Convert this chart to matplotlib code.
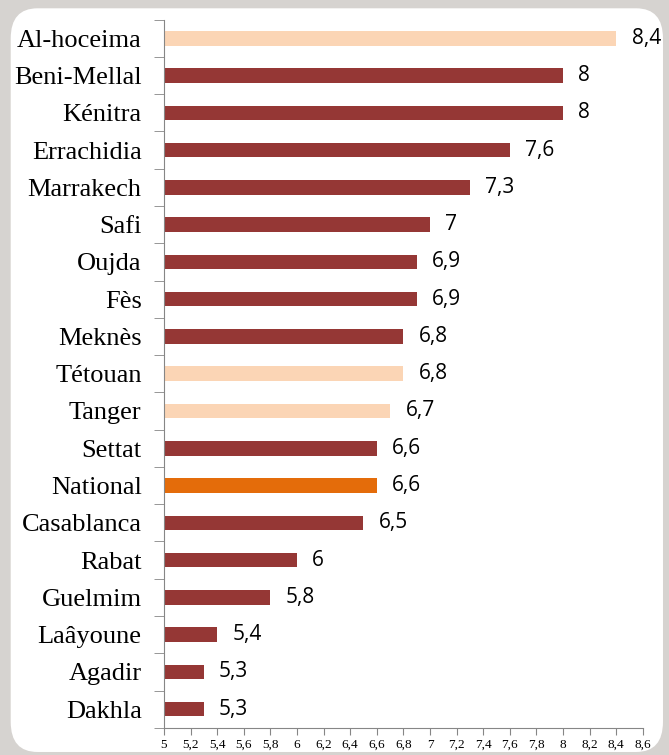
import matplotlib.pyplot as plt
from matplotlib.patches import FancyBboxPatch
from matplotlib.ticker import MultipleLocator, FuncFormatter

# ---- data ----
villes = ["Al-hoceima", "Beni-Mellal", "Kénitra", "Errachidia", "Marrakech", "Safi",
          "Oujda", "Fès", "Meknès", "Tétouan", "Tanger", "Settat", "National",
          "Casablanca", "Rabat", "Guelmim", "Laâyoune", "Agadir", "Dakhla"]
valeurs = [8.4, 8, 8, 7.6, 7.3, 7, 6.9, 6.9, 6.8, 6.8, 6.7, 6.6, 6.6, 6.5, 6, 5.8, 5.4, 5.3, 5.3]
clairs = ["Al-hoceima", "Tétouan", "Tanger"]

rouge = "#953735"
peche = "#FBD5B5"
orange = "#E46C0A"
couleurs = [peche if v in clairs else (orange if v == "National" else rouge) for v in villes]

fig = plt.figure(figsize=(6.69, 7.55), dpi=100, facecolor="#D6D3D0")
# panneau blanc arrondi
fig.patches.append(FancyBboxPatch((0.016, 0.004), 0.975, 0.985,
                                  boxstyle="round,pad=0,rounding_size=0.04",
                                  transform=fig.transFigure, facecolor="white",
                                  edgecolor="none", zorder=-5))

ax = fig.add_axes([0.245, 0.036, 0.716, 0.938])
ax.set_facecolor("none")
ax.set_zorder(2)

y = list(range(len(villes)))
ax.barh(y, [v - 5 for v in valeurs], left=5, height=0.39, color=couleurs)
for yi, v in zip(y, valeurs):
    ax.annotate(str(v).replace(".", ","), (v, yi), xytext=(11, 0), textcoords="offset points",
                va="center", ha="left", fontsize=15, family="Open Sans",
                annotation_clip=False)

ax.set_xlim(5, 8.6)
ax.set_ylim(len(villes) - 0.5, -0.5)
ax.xaxis.set_major_locator(MultipleLocator(0.2))
ax.xaxis.set_major_formatter(FuncFormatter(lambda x, p: ("%g" % round(x, 1)).replace(".", ",")))
ax.tick_params(axis="x", direction="out", length=5, color="#868686", labelsize=9.5, pad=3)
for t in ax.get_xticklabels():
    t.set_family("Liberation Serif")

ax.set_yticks(y)
ax.set_yticklabels(villes, family="Liberation Serif", fontsize=19)
ax.tick_params(axis="y", which="major", length=0, pad=16)
ax.set_yticks([i - 0.5 for i in range(len(villes) + 1)], minor=True)
ax.tick_params(axis="y", which="minor", length=7, color="#868686")

for s in ["top", "right"]:
    ax.spines[s].set_visible(False)
for s in ["left", "bottom"]:
    ax.spines[s].set_color("#868686")

fig.savefig("out.png", dpi=100, facecolor=fig.get_facecolor())
